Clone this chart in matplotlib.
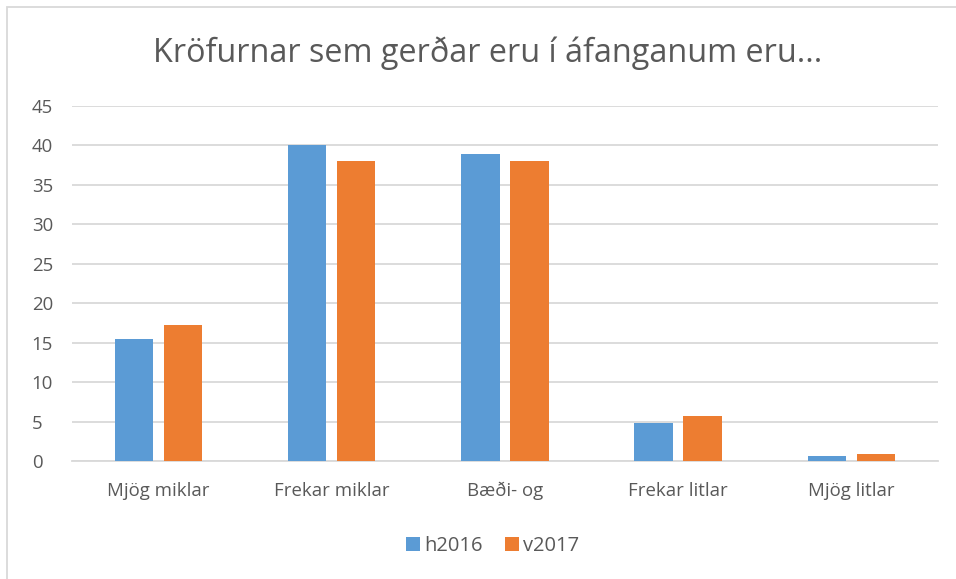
import matplotlib.pyplot as plt
import matplotlib.patches as patches
import numpy as np

# Data
categories = ['Mjög miklar', 'Frekar miklar', 'Bæði- og', 'Frekar litlar', 'Mjög litlar']
h2016 = [15.5, 40, 38.9, 4.8, 0.6]
v2017 = [17.3, 38, 38, 5.7, 0.9]
yticks = [0, 5, 10, 15, 20, 25, 30, 35, 40, 45]

blue = '#5B9BD5'
orange = '#ED7D31'
text_col = '#595959'
grid_col = '#D9D9D9'

plt.rcParams['font.family'] = ['Open Sans', 'DejaVu Sans']

fig = plt.figure(figsize=(9.56, 5.79), dpi=100)
ax = fig.add_axes([0.0753, 0.2038, 0.9057, 0.6131])

# light frame: only the top and left edges are inside the picture
fig.patches.append(patches.Rectangle((0.0075, -0.05), 1.1, 1.038, transform=fig.transFigure,
                                     fill=False, edgecolor=grid_col, linewidth=1.3))

x = np.arange(len(categories))
w = 0.222
off = 0.1415
ax.bar(x - off, h2016, w, color=blue, label='h2016', zorder=3)
ax.bar(x + off, v2017, w, color=orange, label='v2017', zorder=3)

ax.set_xlim(-0.5, len(categories) - 0.5)
ax.set_ylim(0, 45)
ax.set_yticks(yticks)
ax.set_xticks(x)
ax.set_xticklabels(categories)
ax.yaxis.grid(True, color=grid_col, linewidth=1.3, zorder=0)
ax.set_axisbelow(True)
for s in ['top', 'right', 'left']:
    ax.spines[s].set_visible(False)
ax.spines['bottom'].set_color(grid_col)
ax.spines['bottom'].set_linewidth(1.3)
ax.tick_params(axis='both', length=0, colors=text_col, labelsize=13.4)
ax.tick_params(axis='x', pad=15)
ax.tick_params(axis='y', pad=29)
for lab in ax.get_yticklabels():
    lab.set_horizontalalignment('left')

fig.text(0.5105, 0.908, 'Kröfurnar sem gerðar eru í áfanganum eru...', ha='center', va='center',
         fontsize=23.3, color=text_col)

fig.legend(loc='center', bbox_to_anchor=(0.515, 0.057), ncol=2, frameon=False, fontsize=14.5,
           labelcolor=text_col, handlelength=0.7, handleheight=0.7, handletextpad=0.2,
           columnspacing=1.1)

fig.savefig('out.png', dpi=100)
